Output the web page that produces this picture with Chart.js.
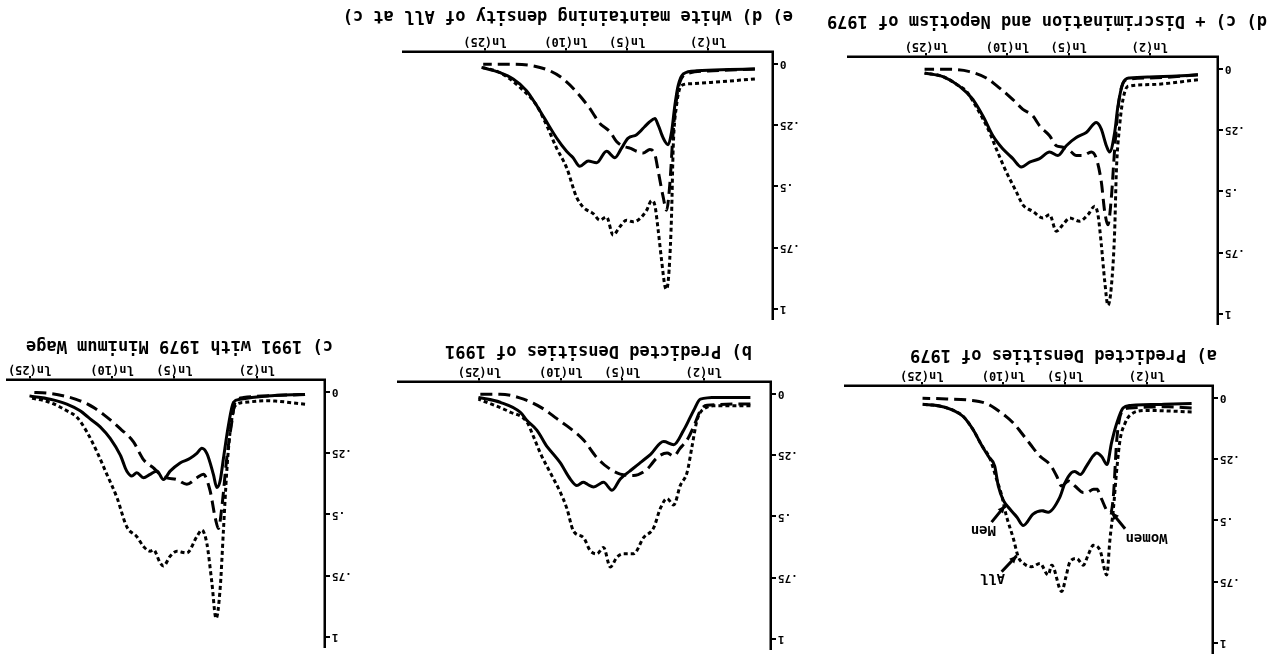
<!DOCTYPE html>
<html>
<head>
<meta charset="utf-8">
<script src="https://cdn.jsdelivr.net/npm/chart.js@4.4.0/dist/chart.umd.min.js"></script>
<style>
  html, body { margin: 0; padding: 0; background: #fff; overflow: hidden; width: 1273px; height: 663px; }
  /* the scanned sheet is upside down, so the whole page is turned 180deg */
  #sheet { position: absolute; left: 0; top: 0; width: 1273px; height: 663px; transform: rotate(180deg); }
  #sheet canvas { position: absolute; }
</style>
</head>
<body>
<div id="sheet"></div>
<script>
/* =====================================================
   Predicted wage densities – five panels
   points are [ln(wage), density]
   ===================================================== */

const xTickValues = [Math.log(2), Math.log(5), Math.log(10), Math.log(25)];
const xTickLabels = ['ln(2)', 'ln(5)', 'ln(10)', 'ln(25)'];
const yTickValues = [0, 0.25, 0.5, 0.75, 1];
const yTickLabels = ['0', '.25', '.5', '.75', '1'];

// a) Predicted Densities of 1979
const aMen = [[3.21,0.025],[3.02,0.032],[2.87,0.049],[2.75,0.076],[2.64,0.13],[2.55,0.19],[2.47,0.238],[2.40,0.278],[2.36,0.359],[2.30,0.42],[2.23,0.453],[2.15,0.487],[2.08,0.521],[1.97,0.474],[1.87,0.46],[1.80,0.467],[1.67,0.406],[1.61,0.345],[1.54,0.305],[1.50,0.30],[1.44,0.312],[1.37,0.278],[1.30,0.238],[1.255,0.224],[1.20,0.238],[1.14,0.271],[1.09,0.184],[1.03,0.102],[0.96,0.04],[0.88,0.03],[0.5,0.025],[0.19,0.022]];
const aWomen = [[3.21,0.0],[2.94,0.003],[2.68,0.008],[2.49,0.022],[2.34,0.056],[2.19,0.102],[2.04,0.17],[1.89,0.238],[1.78,0.271],[1.705,0.318],[1.65,0.359],[1.57,0.339],[1.50,0.359],[1.405,0.386],[1.367,0.386],[1.29,0.372],[1.255,0.372],[1.20,0.413],[1.14,0.46],[1.10,0.47],[1.068,0.40],[1.03,0.17],[0.974,0.056],[0.88,0.04],[0.5,0.035],[0.19,0.04]];
const aAll = [[3.21,0.025],[3.02,0.032],[2.87,0.049],[2.75,0.076],[2.64,0.13],[2.55,0.19],[2.45,0.25],[2.38,0.33],[2.32,0.40],[2.27,0.48],[2.19,0.575],[2.136,0.649],[2.06,0.68],[1.985,0.69],[1.892,0.676],[1.80,0.723],[1.76,0.683],[1.648,0.791],[1.60,0.73],[1.555,0.669],[1.48,0.656],[1.405,0.683],[1.35,0.64],[1.293,0.602],[1.218,0.622],[1.143,0.723],[1.106,0.575],[1.068,0.453],[1.03,0.291],[0.993,0.17],[0.937,0.102],[0.881,0.069],[0.70,0.05],[0.19,0.056]];

// b) Predicted Densities of 1991
const bMen = [[3.23,0.013],[2.985,0.033],[2.76,0.073],[2.685,0.107],[2.572,0.147],[2.459,0.213],[2.309,0.28],[2.196,0.347],[2.121,0.373],[2.046,0.36],[2.008,0.367],[1.933,0.38],[1.821,0.36],[1.726,0.393],[1.632,0.347],[1.52,0.313],[1.407,0.28],[1.294,0.247],[1.144,0.193],[1.031,0.207],[0.919,0.147],[0.806,0.067],[0.73,0.02],[0.542,0.013],[0.167,0.013]];
const bWomen = [[3.23,0.0],[2.985,0.0],[2.72,0.02],[2.497,0.06],[2.346,0.1],[2.196,0.14],[2.046,0.187],[1.895,0.26],[1.745,0.307],[1.632,0.327],[1.482,0.333],[1.331,0.307],[1.219,0.26],[1.106,0.24],[1.031,0.253],[0.956,0.22],[0.88,0.187],[0.806,0.133],[0.73,0.067],[0.655,0.045],[0.167,0.04]];
const bAll = [[3.23,0.02],[2.873,0.073],[2.685,0.113],[2.61,0.173],[2.534,0.24],[2.422,0.32],[2.309,0.4],[2.234,0.467],[2.159,0.56],[2.046,0.587],[1.971,0.64],[1.895,0.653],[1.821,0.627],[1.745,0.707],[1.67,0.667],[1.595,0.653],[1.482,0.653],[1.37,0.587],[1.257,0.547],[1.181,0.467],[1.106,0.427],[1.031,0.453],[0.956,0.373],[0.88,0.32],[0.824,0.213],[0.768,0.107],[0.693,0.06],[0.542,0.047],[0.167,0.047]];

// c) 1991 with 1979 Minimum Wage
const cMen = [[3.22,0.015],[2.99,0.029],[2.805,0.049],[2.657,0.076],[2.546,0.109],[2.434,0.142],[2.323,0.189],[2.212,0.256],[2.138,0.323],[2.083,0.343],[2.027,0.33],[1.953,0.35],[1.879,0.336],[1.804,0.323],[1.731,0.357],[1.657,0.323],[1.546,0.29],[1.434,0.27],[1.36,0.25],[1.304,0.229],[1.249,0.25],[1.176,0.336],[1.138,0.39],[1.101,0.363],[1.064,0.27],[1.009,0.136],[0.953,0.042],[0.879,0.029],[0.582,0.015],[0.157,0.009]];
const cWomen = [[3.22,0.0],[2.99,0.005],[2.805,0.018],[2.657,0.035],[2.509,0.062],[2.36,0.102],[2.212,0.149],[2.064,0.203],[1.953,0.276],[1.842,0.31],[1.768,0.336],[1.694,0.35],[1.582,0.357],[1.471,0.377],[1.36,0.35],[1.287,0.336],[1.212,0.404],[1.157,0.511],[1.12,0.558],[1.082,0.471],[1.027,0.27],[0.971,0.122],[0.934,0.042],[0.842,0.022],[0.582,0.015],[0.157,0.009]];
const cAll = [[3.22,0.022],[2.99,0.042],[2.805,0.076],[2.694,0.102],[2.583,0.162],[2.471,0.243],[2.36,0.336],[2.249,0.43],[2.138,0.551],[2.027,0.591],[1.953,0.631],[1.879,0.651],[1.842,0.645],[1.768,0.698],[1.731,0.711],[1.657,0.671],[1.582,0.651],[1.471,0.658],[1.36,0.591],[1.304,0.564],[1.249,0.618],[1.193,0.778],[1.146,0.926],[1.101,0.805],[1.064,0.564],[1.027,0.323],[0.99,0.162],[0.934,0.055],[0.842,0.042],[0.582,0.035],[0.157,0.049]];

// d) c) + Discrimination and Nepotism of 1979
const dMen = [[3.239,0.016],[3.032,0.03],[2.843,0.07],[2.692,0.124],[2.579,0.191],[2.466,0.272],[2.353,0.326],[2.24,0.366],[2.145,0.4],[2.051,0.38],[1.938,0.366],[1.825,0.339],[1.731,0.353],[1.636,0.313],[1.523,0.279],[1.41,0.259],[1.296,0.218],[1.24,0.245],[1.183,0.313],[1.146,0.339],[1.089,0.259],[1.052,0.151],[0.995,0.057],[0.92,0.036],[0.693,0.032],[0.147,0.023]];
const dWomen = [[3.239,0.0],[2.956,0.0],[2.73,0.01],[2.541,0.036],[2.39,0.077],[2.24,0.124],[2.127,0.164],[2.013,0.191],[1.938,0.232],[1.825,0.272],[1.749,0.313],[1.674,0.319],[1.598,0.333],[1.523,0.353],[1.448,0.353],[1.353,0.339],[1.296,0.366],[1.24,0.461],[1.202,0.582],[1.165,0.636],[1.127,0.528],[1.089,0.326],[1.052,0.164],[1.014,0.077],[0.957,0.043],[0.693,0.036],[0.147,0.023]];
const dAll = [[3.239,0.016],[3.032,0.03],[2.843,0.07],[2.767,0.09],[2.617,0.178],[2.503,0.259],[2.428,0.326],[2.315,0.42],[2.202,0.501],[2.127,0.555],[2.013,0.582],[1.9,0.609],[1.825,0.595],[1.749,0.663],[1.674,0.636],[1.598,0.609],[1.485,0.622],[1.391,0.595],[1.316,0.561],[1.278,0.595],[1.24,0.717],[1.202,0.865],[1.165,0.966],[1.127,0.892],[1.089,0.663],[1.07,0.42],[1.033,0.232],[0.995,0.124],[0.939,0.07],[0.693,0.063],[0.147,0.043]];

// e) d) white maintaining density of All at c)
const eMen = [[3.257,0.013],[3.05,0.034],[2.899,0.06],[2.748,0.108],[2.635,0.168],[2.522,0.235],[2.408,0.302],[2.295,0.356],[2.221,0.383],[2.145,0.417],[2.051,0.396],[1.956,0.403],[1.843,0.356],[1.749,0.383],[1.673,0.343],[1.598,0.302],[1.503,0.289],[1.429,0.262],[1.353,0.235],[1.296,0.222],[1.259,0.249],[1.202,0.302],[1.146,0.329],[1.107,0.276],[1.07,0.168],[1.033,0.087],[0.976,0.04],[0.825,0.027],[0.165,0.02]];
const eWomen = [[3.238,0.0],[2.899,0.0],[2.673,0.007],[2.484,0.027],[2.334,0.06],[2.182,0.114],[2.032,0.181],[1.919,0.242],[1.805,0.276],[1.73,0.316],[1.655,0.336],[1.579,0.343],[1.503,0.356],[1.429,0.363],[1.353,0.349],[1.296,0.37],[1.259,0.437],[1.202,0.544],[1.164,0.598],[1.127,0.49],[1.089,0.276],[1.051,0.141],[1.014,0.074],[0.938,0.04],[0.637,0.027],[0.165,0.02]];
const eAll = [[3.257,0.013],[3.05,0.034],[2.824,0.094],[2.635,0.168],[2.522,0.249],[2.408,0.343],[2.295,0.423],[2.182,0.544],[2.107,0.585],[1.994,0.611],[1.919,0.638],[1.843,0.625],[1.768,0.699],[1.692,0.665],[1.617,0.638],[1.542,0.645],[1.466,0.632],[1.39,0.598],[1.334,0.558],[1.296,0.578],[1.259,0.679],[1.221,0.8],[1.183,0.907],[1.164,0.921],[1.135,0.84],[1.107,0.611],[1.089,0.343],[1.051,0.168],[0.994,0.087],[0.9,0.08],[0.637,0.074],[0.165,0.06]];

// labels with arrows, panel a only
const aNotes = [
  { text: 'Men',   at: [2.527, 0.538], from: [2.435, 0.507], to: [2.285, 0.44] },
  { text: 'All',   at: [2.426, 0.733], from: [2.322, 0.71],  to: [2.154, 0.645] },
  { text: 'Women', at: [0.696, 0.571], from: [0.937, 0.534], to: [1.087, 0.467] },
];

const FONT = '"DejaVu Sans Mono", "Liberation Mono", monospace';
const PAD = { left: 60, top: 5, right: 70, bottom: 55 };
const PLOT_H = 270;

// positions below are in the un-turned sheet
const panels = [
  { title: 'a) Predicted Densities of 1979', men: aMen, women: aWomen, all: aAll, left: 60, bottom: 277, width: 368, xMin: -0.05, xMax: 4.08, dx: -4, dy: 32, notes: aNotes },
  { title: 'b) Predicted Densities of 1991', men: bMen, women: bWomen, all: bAll, left: 502, bottom: 281, width: 373, xMin: -0.065, xMax: 4.135, dx: 19, dy: 32 },
  { title: 'c) 1991 with 1979 Minimum Wage', men: cMen, women: cWomen, all: cAll, left: 948, bottom: 283, width: 318, xMin: -0.065, xMax: 3.47, dx: -8, dy: 35 },
  { title: 'd) c) + Discrimination and Nepotism of 1979', men: dMen, women: dWomen, all: dAll, left: 55, bottom: 606, width: 370, xMin: -0.08, xMax: 4.105, dx: -49, dy: 37 },
  { title: 'e) d) white maintaining density of All at c)', men: eMen, women: eWomen, all: eAll, left: 500, bottom: 611, width: 370, xMin: -0.04, xMax: 4.145, dx: -20, dy: 37 },
];

Chart.defaults.color = '#000';
Chart.defaults.font.family = FONT;

function toPoints(list) {
  return list.map(([x, y]) => ({ x, y })).sort((p, q) => p.x - q.x);
}

function arrow(ctx, x1, y1, x2, y2) {
  const a = Math.atan2(y2 - y1, x2 - x1), h = 8;
  ctx.beginPath();
  ctx.moveTo(x1, y1);
  ctx.lineTo(x2, y2);
  ctx.stroke();
  ctx.beginPath();
  ctx.moveTo(x2, y2);
  ctx.lineTo(x2 - h * Math.cos(a - 0.45), y2 - h * Math.sin(a - 0.45));
  ctx.lineTo(x2 - h * Math.cos(a + 0.45), y2 - h * Math.sin(a + 0.45));
  ctx.closePath();
  ctx.fill();
}

const panelText = {
  id: 'panelText',
  afterDraw(chart, args, opts) {
    const { ctx, chartArea, scales: { x, y } } = chart;
    ctx.save();
    ctx.fillStyle = '#000';
    ctx.strokeStyle = '#000';
    ctx.textBaseline = 'middle';
    ctx.textAlign = 'left';
    ctx.font = `bold 17px ${FONT}`;
    ctx.fillText(opts.title, chartArea.left + opts.dx, chartArea.bottom + opts.dy);
    ctx.font = `bold 14px ${FONT}`;
    ctx.textAlign = 'center';
    ctx.lineWidth = 3;
    (opts.notes || []).forEach(n => {
      ctx.fillText(n.text, x.getPixelForValue(n.at[0]), y.getPixelForValue(n.at[1]));
      arrow(ctx, x.getPixelForValue(n.from[0]), y.getPixelForValue(n.from[1]),
                 x.getPixelForValue(n.to[0]), y.getPixelForValue(n.to[1]));
    });
    ctx.restore();
  }
};

function line(label, list, dash) {
  return {
    label, data: toPoints(list),
    borderColor: '#000', borderWidth: 3, borderDash: dash,
    pointRadius: 0, fill: false, cubicInterpolationMode: 'monotone'
  };
}

function drawPanel(p) {
  const canvas = document.createElement('canvas');
  canvas.width = PAD.left + p.width + PAD.right;
  canvas.height = PAD.top + PLOT_H + PAD.bottom;
  canvas.style.left = (p.left - PAD.left) + 'px';
  canvas.style.top = (p.bottom - PLOT_H - PAD.top) + 'px';
  document.getElementById('sheet').appendChild(canvas);

  new Chart(canvas, {
    type: 'line',
    data: {
      datasets: [
        line('Men', p.men, []),
        line('Women', p.women, [12, 6]),
        line('All', p.all, [4, 3]),
      ]
    },
    options: {
      responsive: false, animation: false,
      layout: { padding: { left: 0, top: PAD.top, right: PAD.right, bottom: 0 } },
      plugins: {
        legend: { display: false }, tooltip: { enabled: false }, title: { display: false },
        panelText: { title: p.title, dx: p.dx, dy: p.dy, notes: p.notes }
      },
      scales: {
        x: {
          type: 'linear', min: p.xMin, max: p.xMax,
          afterFit: s => { s.height = PAD.bottom; },
          afterBuildTicks: s => { s.ticks = xTickValues.map(v => ({ value: v })); },
          ticks: { callback: (v, i) => xTickLabels[i], autoSkip: false, maxRotation: 0, padding: 0,
                   font: { size: 12, weight: 'bold' } },
          grid: { drawOnChartArea: false, tickLength: 4, color: '#000', lineWidth: 2 },
          border: { color: '#000', width: 2.5 }
        },
        y: {
          min: -0.05, max: 1.04,
          afterFit: s => { s.width = PAD.left; },
          afterBuildTicks: s => { s.ticks = yTickValues.map(v => ({ value: v })); },
          ticks: { callback: (v, i) => yTickLabels[i], autoSkip: false, padding: 2,
                   font: { size: 11, weight: 'bold' } },
          grid: { drawOnChartArea: false, tickLength: 5, color: '#000', lineWidth: 2 },
          border: { color: '#000', width: 2.5 }
        }
      }
    },
    plugins: [panelText]
  });
}

panels.forEach(drawPanel);
</script>
</body>
</html>
